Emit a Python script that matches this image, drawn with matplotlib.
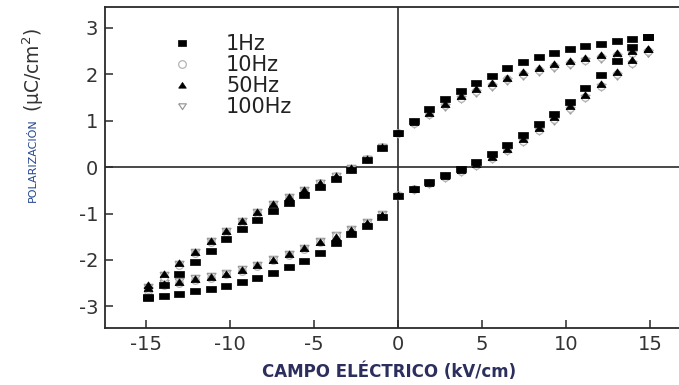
import matplotlib
matplotlib.use('Agg')
import matplotlib.pyplot as plt
from matplotlib.lines import Line2D

plt.rcParams['font.family'] = ['DejaVu Sans']
plt.rcParams['axes.unicode_minus'] = False

# campo eléctrico (kV/cm), mismo muestreo para ambas ramas
campo = [-14.88, -13.95, -13.02, -12.09, -11.16, -10.23, -9.3, -8.37, -7.44, -6.51, -5.58,
         -4.65, -3.72, -2.79, -1.86, -0.93, 0, 0.93, 1.86, 2.79, 3.72, 4.65, 5.58, 6.51,
         7.44, 8.37, 9.3, 10.23, 11.16, 12.09, 13.02, 13.95, 14.88]

# rama inferior (campo creciente) y rama superior (campo decreciente)
p1_inf = [-2.82, -2.78, -2.73, -2.68, -2.63, -2.57, -2.47, -2.39, -2.29, -2.16, -2.03,
          -1.86, -1.63, -1.45, -1.27, -1.08, -0.62, -0.47, -0.33, -0.18, -0.04, 0.11, 0.28,
          0.48, 0.70, 0.93, 1.15, 1.40, 1.70, 1.98, 2.28, 2.58, 2.80]
p1_sup = [-2.80, -2.55, -2.30, -2.04, -1.80, -1.56, -1.34, -1.13, -0.94, -0.77, -0.60,
          -0.42, -0.25, -0.06, 0.15, 0.42, 0.74, 1.00, 1.25, 1.47, 1.65, 1.81, 1.97, 2.13,
          2.26, 2.38, 2.46, 2.54, 2.61, 2.66, 2.71, 2.76, 2.80]

p10_inf = [-2.66, -2.55, -2.49, -2.44, -2.38, -2.31, -2.23, -2.13, -2.01, -1.89, -1.76,
           -1.62, -1.49, -1.35, -1.20, -1.03, -0.61, -0.48, -0.35, -0.22, -0.09, 0.04, 0.19,
           0.37, 0.57, 0.80, 1.03, 1.27, 1.51, 1.75, 2.00, 2.25, 2.50]
p10_sup = [-2.62, -2.36, -2.10, -1.86, -1.62, -1.40, -1.19, -0.99, -0.82, -0.66, -0.51,
           -0.35, -0.20, -0.03, 0.17, 0.43, 0.73, 0.95, 1.14, 1.33, 1.49, 1.64, 1.77, 1.89,
           2.00, 2.10, 2.18, 2.25, 2.31, 2.37, 2.41, 2.45, 2.50]

p50_inf = [-2.60, -2.52, -2.47, -2.42, -2.37, -2.30, -2.22, -2.12, -2.00, -1.88, -1.75,
           -1.62, -1.50, -1.36, -1.21, -1.04, -0.60, -0.47, -0.34, -0.20, -0.07, 0.06, 0.22,
           0.40, 0.60, 0.84, 1.07, 1.31, 1.55, 1.80, 2.05, 2.30, 2.55]
p50_sup = [-2.55, -2.30, -2.06, -1.83, -1.60, -1.38, -1.16, -0.96, -0.80, -0.64, -0.49,
           -0.34, -0.19, -0.02, 0.18, 0.44, 0.74, 0.97, 1.17, 1.36, 1.53, 1.68, 1.81, 1.93,
           2.04, 2.14, 2.22, 2.29, 2.36, 2.41, 2.45, 2.50, 2.55]

p100_inf = [-2.64, -2.50, -2.45, -2.40, -2.35, -2.28, -2.20, -2.10, -1.99, -1.87, -1.74,
            -1.60, -1.47, -1.33, -1.18, -1.02, -0.62, -0.49, -0.36, -0.23, -0.10, 0.03, 0.17,
            0.35, 0.55, 0.78, 1.00, 1.24, 1.48, 1.72, 1.97, 2.22, 2.47]
p100_sup = [-2.58, -2.33, -2.08, -1.84, -1.60, -1.38, -1.17, -0.97, -0.80, -0.64, -0.49,
            -0.34, -0.19, -0.02, 0.17, 0.43, 0.72, 0.93, 1.12, 1.30, 1.46, 1.60, 1.73, 1.85,
            1.96, 2.06, 2.14, 2.21, 2.28, 2.34, 2.38, 2.43, 2.47]

etiquetas = ['1Hz', '10Hz', '50Hz', '100Hz']
xticks = [-15, -10, -5, 0, 5, 10, 15]
yticks = [-3, -2, -1, 0, 1, 2, 3]

# marcadores algo más anchos que altos, como en la figura original
cuadrado = [(-1, -0.75), (1, -0.75), (1, 0.75), (-1, 0.75), (-1, -0.75)]
tri_arriba = [(-1, -0.7), (1, -0.7), (0, 0.8), (-1, -0.7)]
tri_abajo = [(-1, 0.7), (1, 0.7), (0, -0.8), (-1, 0.7)]

estilos = [
    dict(marker=cuadrado, mfc='black', mec='black', mew=0.5),
    dict(marker='o', mfc='white', mec='#b4b4b4', mew=0.9),
    dict(marker=tri_arriba, mfc='black', mec='black', mew=0.5),
    dict(marker=tri_abajo, mfc='white', mec='#9a9a9a', mew=0.9),
]

fig = plt.figure(figsize=(6.79, 3.85), dpi=100)
ax = fig.add_axes([0.1546, 0.149, 0.8454, 0.8327])

gris = '#2a2a2a'
series = [
    (p100_inf, p100_sup, estilos[3], 6.5, 2),
    (p10_inf, p10_sup, estilos[1], 5.5, 3),
    (p50_inf, p50_sup, estilos[2], 6.5, 4),
    (p1_inf, p1_sup, estilos[0], 6.5, 5),
]
for inf, sup, estilo, ms, z in series:
    ax.plot(campo + campo[::-1], inf + sup[::-1], ls='none', ms=ms, zorder=z, **estilo)

ax.axhline(0, color=gris, lw=1.2, zorder=1)
ax.axvline(0, color=gris, lw=1.2, zorder=1)

ax.set_xlim(-17.45, 16.73)
ax.set_ylim(-3.46, 3.45)
ax.set_xticks(xticks)
ax.set_yticks(yticks)
ax.tick_params(direction='in', length=6, width=1.1, color=gris, labelcolor='#333333',
               labelsize=14, pad=5)
for lado in ['left', 'bottom', 'top']:
    ax.spines[lado].set_color(gris)
    ax.spines[lado].set_linewidth(1.3)
ax.spines['right'].set_visible(False)

# leyenda
handles = [Line2D([], [], ls='none', ms=5.5, **e) for e in estilos]
leg = ax.legend(handles, etiquetas, loc='upper left',
                bbox_to_anchor=(174 / 679, 1 - 34 / 385), bbox_transform=fig.transFigure,
                frameon=False, fontsize=15, handletextpad=1.7, labelspacing=0.05,
                handlelength=0.8, borderaxespad=0, borderpad=0)
for t in leg.get_texts():
    t.set_color('#222222')

# títulos de ejes
fig.text(0.049, 1 - 160 / 385, 'POLARIZACIÓN', rotation=90, ha='center', va='center',
         color='#23468f', fontsize=8)
fig.text(0.049, 1 - 70 / 385, '(µC/cm$^2$)', rotation=90, ha='center', va='center',
         color='#333333', fontsize=13.5)
fig.text(389 / 679, 1 - 372 / 385, 'CAMPO ELÉCTRICO (kV/cm)', ha='center', va='center',
         color='#2c2f5e', fontsize=12, fontweight='bold')

fig.savefig('out.png', dpi=100)
